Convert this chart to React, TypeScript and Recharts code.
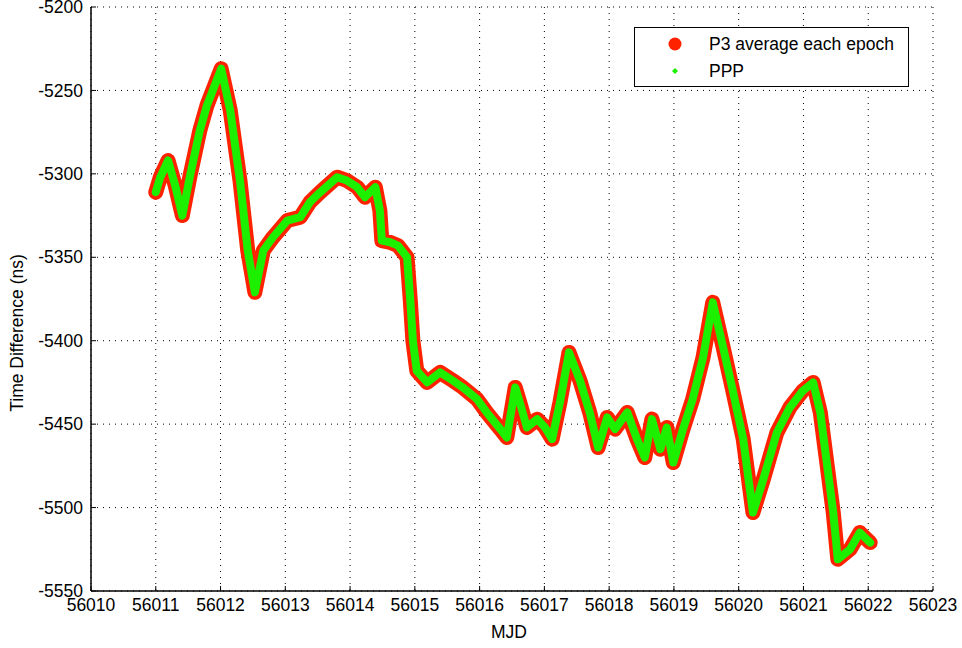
import { LineChart, Line, XAxis, YAxis, CartesianGrid, Legend } from 'recharts';

// MJD sample positions
const mjd = [
  56011.0, 56011.07, 56011.19, 56011.3, 56011.41, 56011.53, 56011.68, 56011.79, 56011.88,
  56012.01, 56012.15, 56012.3, 56012.42, 56012.53, 56012.66, 56012.81, 56013.03, 56013.23,
  56013.38, 56013.54, 56013.8, 56013.95, 56014.11, 56014.23, 56014.39, 56014.46, 56014.49,
  56014.62, 56014.74, 56014.88, 56014.93, 56014.97, 56015.03, 56015.19, 56015.39, 56015.59,
  56015.74, 56015.96, 56016.11, 56016.32, 56016.42, 56016.55, 56016.62, 56016.73, 56016.89,
  56017.01, 56017.12, 56017.24, 56017.38, 56017.55, 56017.7, 56017.83, 56017.97, 56018.09,
  56018.28, 56018.43, 56018.55, 56018.66, 56018.79, 56018.89, 56018.99, 56019.14, 56019.29,
  56019.45, 56019.6, 56019.76, 56019.91, 56020.07, 56020.22, 56020.38, 56020.59, 56020.79,
  56020.99, 56021.15, 56021.26, 56021.36, 56021.46, 56021.53, 56021.72, 56021.87, 56022.03,
];

// P3 average each epoch (ns)
const p3 = [
  -5311, -5302, -5292, -5307, -5325, -5301, -5274, -5259, -5250, -5237, -5262, -5304, -5346,
  -5371, -5346, -5338, -5328, -5326, -5317, -5311, -5302, -5304, -5308, -5314, -5308, -5322,
  -5340, -5341, -5343, -5350, -5376, -5400, -5418, -5425, -5419, -5424, -5428, -5435, -5443,
  -5453, -5458, -5428, -5437, -5452, -5447, -5452, -5459, -5437, -5407, -5424, -5443, -5464,
  -5446, -5453, -5443, -5459, -5470, -5447, -5465, -5452, -5473, -5453, -5435, -5410, -5377,
  -5404, -5430, -5459, -5503, -5483, -5455, -5440, -5430, -5425, -5443, -5473, -5503, -5531,
  -5525, -5515, -5521,
];

// PPP (ns) - sits on top of the P3 trace
const ppp = [
  -5311, -5302, -5292, -5307, -5325, -5301, -5274, -5259, -5250, -5237, -5262, -5304, -5346,
  -5371, -5346, -5338, -5328, -5326, -5317, -5311, -5302, -5304, -5308, -5314, -5308, -5322,
  -5340, -5341, -5343, -5350, -5376, -5400, -5418, -5425, -5419, -5424, -5428, -5435, -5443,
  -5453, -5458, -5428, -5437, -5452, -5447, -5452, -5459, -5437, -5407, -5424, -5443, -5464,
  -5446, -5453, -5443, -5459, -5470, -5447, -5465, -5452, -5473, -5453, -5435, -5410, -5377,
  -5404, -5430, -5459, -5503, -5483, -5455, -5440, -5430, -5425, -5443, -5473, -5503, -5531,
  -5525, -5515, -5521,
];

const xTicks = [
  56010, 56011, 56012, 56013, 56014, 56015, 56016, 56017, 56018, 56019, 56020, 56021, 56022, 56023,
];
const yTicks = [-5550, -5500, -5450, -5400, -5350, -5300, -5250, -5200];

const RED = '#ff2200';
const GREEN = '#1cef00';
const FONT = '"Liberation Sans", Arial, sans-serif';
const FS = 17.5;

const data = mjd.map((m, i) => ({ mjd: m, p3: p3[i], ppp: ppp[i] }));

function LegendBox() {
  return (
    <div
      style={{
        width: 273,
        height: 58,
        border: '1px solid #000',
        background: '#fff',
        position: 'relative',
      }}
    >
      <svg width={273} height={58} style={{ position: 'absolute', left: 0, top: 0 }}>
        <circle cx={40} cy={16} r={6.5} fill={RED} />
        <path d="M40 40 L43 43 L40 46 L37 43 Z" fill={GREEN} />
        <text x={74} y={16} dominantBaseline="central" fontFamily={FONT} fontSize={FS}>
          P3 average each epoch
        </text>
        <text x={74} y={43} dominantBaseline="central" fontFamily={FONT} fontSize={FS}>
          PPP
        </text>
      </svg>
    </div>
  );
}

export default function App() {
  const tickStyle = { fontSize: FS, fill: '#000', fontFamily: FONT };
  return (
    <div style={{ position: 'absolute', left: 0, top: 0, background: '#fff' }}>
      <LineChart
        width={962}
        height={648}
        data={data}
        margin={{ top: 7, right: 29, bottom: 0, left: 0 }}
      >
        <CartesianGrid stroke="#000" strokeDasharray="1 5" />
        <XAxis
          dataKey="mjd"
          type="number"
          domain={[56010, 56023]}
          ticks={xTicks}
          interval={0}
          height={57}
          tickSize={-5}
          tickMargin={13}
          tick={tickStyle}
          axisLine={{ stroke: '#000', strokeWidth: 1.5 }}
          tickLine={{ stroke: '#000' }}
          label={{
            content: (props: any) => {
              const vb = props.viewBox;
              return (
                <text
                  x={vb.x + vb.width / 2 - 3}
                  y={632}
                  textAnchor="middle"
                  dominantBaseline="central"
                  fontFamily={FONT}
                  fontSize={FS}
                  fill="#000"
                >
                  MJD
                </text>
              );
            },
          }}
        />
        <XAxis
          xAxisId="top"
          orientation="top"
          dataKey="mjd"
          type="number"
          domain={[56010, 56023]}
          ticks={xTicks}
          interval={0}
          height={0}
          tickSize={-5}
          tickFormatter={() => ''}
          axisLine={{ stroke: '#000', strokeWidth: 1.5 }}
          tickLine={{ stroke: '#000' }}
        />
        <YAxis
          type="number"
          domain={[-5550, -5200]}
          ticks={yTicks}
          interval={0}
          width={91}
          tickSize={-5}
          tickMargin={13}
          tick={tickStyle}
          axisLine={{ stroke: '#000', strokeWidth: 1.5 }}
          tickLine={{ stroke: '#000' }}
          allowDataOverflow
          label={{
            content: (props: any) => {
              const vb = props.viewBox;
              const cx = 17;
              const cy = vb.y + vb.height / 2 + 34;
              return (
                <text
                  x={cx}
                  y={cy}
                  transform={`rotate(-90 ${cx} ${cy})`}
                  textAnchor="middle"
                  dominantBaseline="central"
                  fontFamily={FONT}
                  fontSize={FS}
                  fill="#000"
                >
                  Time Difference (ns)
                </text>
              );
            },
          }}
        />
        <YAxis
          yAxisId="right"
          orientation="right"
          type="number"
          domain={[-5550, -5200]}
          ticks={yTicks}
          interval={0}
          width={0}
          tickSize={-5}
          tickFormatter={() => ''}
          axisLine={{ stroke: '#000', strokeWidth: 1.5 }}
          tickLine={{ stroke: '#000' }}
        />
        <Line
          dataKey="p3"
          name="P3 average each epoch"
          type="linear"
          stroke={RED}
          strokeWidth={15}
          strokeLinejoin="round"
          strokeLinecap="round"
          dot={false}
          isAnimationActive={false}
        />
        <Line
          dataKey="ppp"
          name="PPP"
          type="linear"
          stroke={GREEN}
          strokeWidth={8}
          strokeLinejoin="round"
          strokeLinecap="round"
          dot={false}
          isAnimationActive={false}
        />
        <Legend
          layout="vertical"
          align="center"
          verticalAlign="middle"
          wrapperStyle={{ left: 634, top: 27, width: 275, height: 60 }}
          content={() => <LegendBox />}
        />
      </LineChart>
    </div>
  );
}
